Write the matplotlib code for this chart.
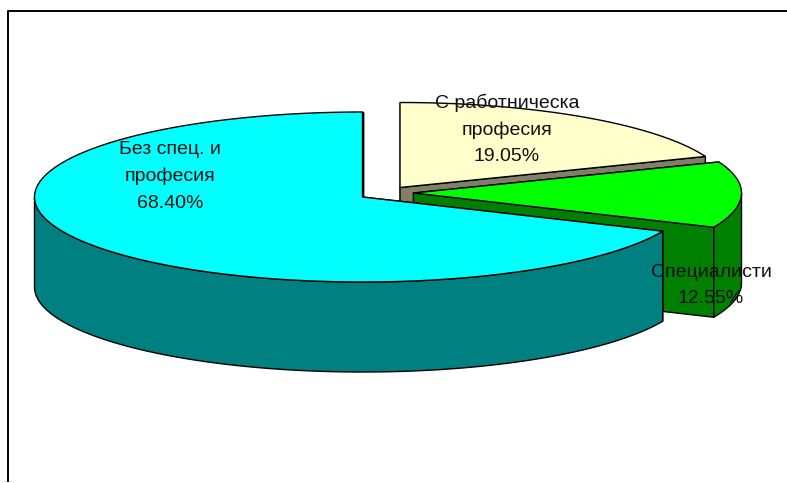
import numpy as np
import matplotlib
matplotlib.use("Agg")
import matplotlib.pyplot as plt
from matplotlib.patches import Polygon

categories = ["С работническа\nпрофесия", "Специалисти", "Без спец. и\nпрофесия"]
values = [19.05, 12.55, 68.40]

top_colors = ["#FFFFCC", "#00FF00", "#00FFFF"]
side_colors = ["#808066", "#008000", "#008080"]

# центри на резените (изместени), пиксели
centers = [(400, 187.5), (413.5, 193), (362.5, 197)]
label_pos = [(507, 129.5), (711, 285.5), (170, 176.5)]
line_spacing = [1.72, 1.72, 1.72]
RX, RY, DEPTH = 328, 85, 90
W, H = 787, 483

plt.rcParams["font.family"] = ["Liberation Sans", "DejaVu Sans"]


def arc(cx, cy, a1, a2):
    # a1, a2 во степени, од горе во насока на стрелките
    t = np.radians(np.linspace(a1, a2, 200))
    return np.column_stack([cx + RX * np.sin(t), cy - RY * np.cos(t)])


def draw_slice(ax, center, a1, a2, top, side):
    cx, cy = center
    shift = np.array([0, DEPTH])
    edge = arc(cx, cy, a1, a2)
    c = np.array([[cx, cy]])
    kw = dict(edgecolor="black", linewidth=1.0, joinstyle="round")

    # сечења
    for p in (edge[0], edge[-1]):
        face = np.array([c[0], p, p + shift, c[0] + shift])
        ax.add_patch(Polygon(face, facecolor=side, **kw))

    # надворешна страна (само видливиот дел, под хоризонталата)
    t = np.linspace(a1, a2, 200)
    mask = (t >= 90) & (t <= 270)
    if mask.any():
        vis = edge[mask]
        ax.add_patch(Polygon(np.vstack([vis, (vis + shift)[::-1]]), facecolor=side, **kw))

    # горна површина
    ax.add_patch(Polygon(np.vstack([c, edge]), facecolor=top, **kw))


fig = plt.figure(figsize=(W / 100, H / 100), dpi=100)
ax = fig.add_axes([0, 0, 1, 1])
ax.set_xlim(0, W)
ax.set_ylim(H, 0)
ax.axis("off")

# рамка
ax.plot([7.5, 7.5, W], [481, 10.5, 10.5], color="black", linewidth=1.4)

start = 0.0
for i, v in enumerate(values):
    end = start + v * 3.6
    draw_slice(ax, centers[i], start, end, top_colors[i], side_colors[i])
    start = end

for i, name in enumerate(categories):
    ax.text(label_pos[i][0], label_pos[i][1], f"{name}\n{values[i]:.2f}%",
            ha="center", va="center", fontsize=14, linespacing=line_spacing[i], color="#101010")

fig.savefig("out.png", dpi=100)
